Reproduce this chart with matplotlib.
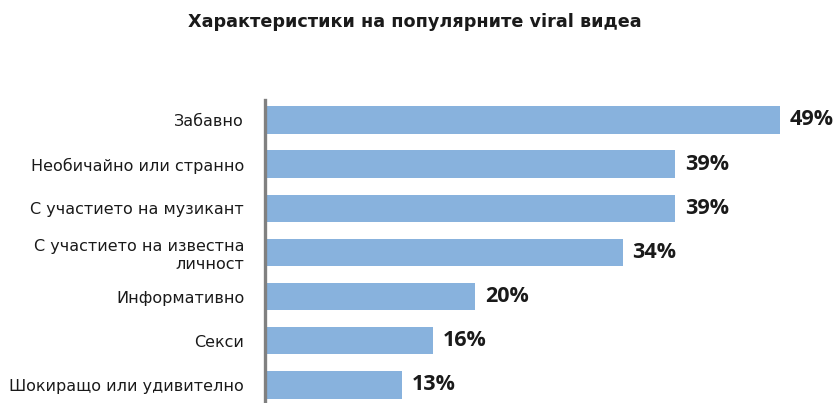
import matplotlib
matplotlib.use("Agg")
import matplotlib.pyplot as plt

title = "Характеристики на популярните viral видеа"
categories = [
    "Забавно",
    "Необичайно или странно",
    "С участието на музикант",
    "С участието на известна\nличност",
    "Информативно",
    "Секси",
    "Шокиращо или удивително",
]
values = [49, 39, 39, 34, 20, 16, 13]

W, H = 837, 403
fig = plt.figure(figsize=(W / 100, H / 100), dpi=100)
fig.patch.set_facecolor("white")

ax_left = 265 / W
ax_bottom = 0.0
ax_top = 100 / H
ax = fig.add_axes([ax_left, ax_bottom, 1 - ax_left, 1 - ax_top - ax_bottom])

ypos = list(range(len(categories)))
ax.barh(ypos, values, height=0.62, color="#88b2dd", edgecolor="none")

ax.set_xlim(0, 54.4)
ax.set_ylim(len(categories) - 1 + 0.41, -0.45)

for s in ["top", "right", "bottom"]:
    ax.spines[s].set_visible(False)
ax.spines["left"].set_color("#808080")
ax.spines["left"].set_linewidth(2.4)

ax.set_xticks([])
ax.set_yticks(ypos)
ax.set_yticklabels(categories, fontsize=11.5, family="DejaVu Sans",
                   color="#1a1a1a", ha="right", linespacing=1.25)
ax.tick_params(axis="y", length=0, pad=15)

for y, v in zip(ypos, values):
    ax.annotate(f"{v}%", xy=(v, y), xytext=(7, 0), textcoords="offset points",
                va="center", ha="left", fontsize=15.5, fontweight="bold",
                family="Open Sans", color="#1a1a1a")

fig.text(415 / W, 1 - 22 / H, title, ha="center", va="center",
         fontsize=12.7, fontweight="bold", family="DejaVu Sans", color="#1a1a1a")

fig.savefig("out.png", dpi=100)
